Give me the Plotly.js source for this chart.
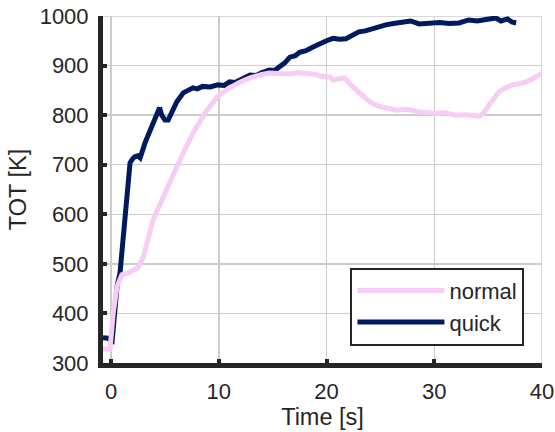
<!DOCTYPE html>
<html>
<head>
<meta charset="utf-8">
<script src="https://cdn.plot.ly/plotly-3.0.1.min.js"></script>
<style>html,body{margin:0;padding:0;background:#fff;}#chart{width:555px;height:432px;}</style>
</head>
<body>
<div id="chart"></div>
<script>
const quickTime = [-0.75, -0.3, 0.1, 0.3, 0.55, 0.83, 1.1, 1.5, 1.76, 2.0, 2.2, 2.5, 2.7, 3.15, 3.6, 4.07, 4.5, 4.7, 5.0, 5.3, 5.7, 6.1, 6.7, 7.2, 7.6, 8.0, 8.5, 9.2, 9.9, 10.5, 11, 11.5, 12, 12.9, 13.5, 14, 14.7, 15.2, 15.6, 16.1, 16.6, 17.1, 17.5, 18.1, 18.7, 19.4, 20.0, 20.6, 21.2, 21.8, 22.4, 23, 23.6, 24.3, 24.9, 25.5, 26.2, 27, 27.8, 28.6, 29.2, 29.8, 30.5, 31.4, 32.3, 33.2, 34.0, 34.8, 35.7, 36.2, 36.8, 37.2, 37.6];
const quickTOT = [351, 350, 345, 400, 454, 482, 548, 649, 704, 712, 716, 718, 714, 744, 770, 794, 815, 800, 790, 790, 808, 827, 845, 850, 855, 853, 858, 857, 861, 860, 867, 866, 872, 881, 880, 886, 891, 890, 897, 905, 917, 920, 927, 930, 937, 945, 950, 955, 953, 954, 960, 968, 970, 975, 978, 982, 985, 988, 990, 984, 985, 988, 987, 985, 986, 992, 990, 993, 996, 990, 994, 988, 986];
const normalTime = [-0.75, -0.1, 0.2, 0.55, 1.0, 1.6, 2.5, 3.0, 3.9, 4.8, 6.1, 7.6, 8.9, 9.9, 11, 12, 12.9, 14, 14.7, 15.6, 16.6, 17.3, 18.1, 19, 19.4, 20.3, 20.6, 21.7, 22.2, 22.8, 23.4, 24, 24.8, 25.6, 26.5, 27.4, 28.2, 28.9, 30.2, 31, 32, 33, 34.2, 34.6, 35.1, 35.6, 36, 36.6, 37.2, 37.8, 38.5, 39.2, 40];
const normalTOT = [328, 328, 401, 454, 478, 482, 492, 514, 589, 635, 696, 764, 810, 838, 855, 867, 875, 882, 885, 884, 883, 886, 885, 882, 879, 877, 871, 875, 862, 851, 838, 827, 818, 814, 810, 812, 809, 806, 804, 805, 800, 801, 798, 805, 821, 835, 847, 855, 861, 863, 867, 874, 885];
const seriesNames = ['normal', 'quick'];
const xTicks = [0, 10, 20, 30, 40];
const yTicks = [300, 400, 500, 600, 700, 800, 900, 1000];

const ink = '#262626';
const tickFont = {family: 'Liberation Sans, Arial, sans-serif', size: 22, color: ink};
const titleFont = {family: 'Liberation Sans, Arial, sans-serif', size: 23.5, color: ink};
const legendFont = {family: 'Liberation Sans, Arial, sans-serif', size: 22, color: ink};
const grid = '#cccccc';

const traces = [
  {x: quickTime, y: quickTOT, name: seriesNames[1], mode: 'lines',
   line: {color: '#001a5e', width: 5}},
  {x: normalTime, y: normalTOT, name: seriesNames[0], mode: 'lines',
   line: {color: '#f8cdf5', width: 5}}
];

const axisCommon = {
  showline: true, linecolor: ink, linewidth: 5,
  ticks: 'inside', ticklen: 4, tickwidth: 4, tickcolor: ink,
  showgrid: true, gridcolor: grid, gridwidth: 1.5,
  zeroline: false, tickfont: tickFont
};

const layout = {
  width: 555, height: 432,
  margin: {l: 103, r: 13, t: 16, b: 69},
  paper_bgcolor: '#fff', plot_bgcolor: '#fff',
  font: tickFont,
  showlegend: true,
  xaxis: Object.assign({}, axisCommon, {
    range: [-0.75, 40], tickvals: xTicks, ticktext: xTicks.map(String),
    title: {text: 'Time [s]', font: titleFont, standoff: 6},
    ticklabelstandoff: 5
  }),
  yaxis: Object.assign({}, axisCommon, {
    range: [300, 1000], tickvals: yTicks, ticktext: yTicks.map(String),
    title: {text: 'TOT [K]', font: titleFont, standoff: 8},
    ticklabelstandoff: 5
  }),
  shapes: [
    {type: 'line', xref: 'paper', yref: 'y', x0: 0, x1: 1, y0: yTicks[yTicks.length - 1], y1: yTicks[yTicks.length - 1],
     line: {color: grid, width: 1.5}, layer: 'below'},
    {type: 'line', xref: 'x', yref: 'paper', x0: xTicks[xTicks.length - 1], x1: xTicks[xTicks.length - 1], y0: 0, y1: 1,
     line: {color: grid, width: 1.5}, layer: 'below'}
  ],
  legend: {
    x: 0.96, y: 0.05, xanchor: 'right', yanchor: 'bottom',
    traceorder: 'reversed', bgcolor: '#fff', bordercolor: ink, borderwidth: 2,
    font: legendFont, itemwidth: 87, tracegroupgap: 0
  }
};

Plotly.newPlot('chart', traces, layout, {displayModeBar: false, staticPlot: true});
</script>
</body>
</html>
